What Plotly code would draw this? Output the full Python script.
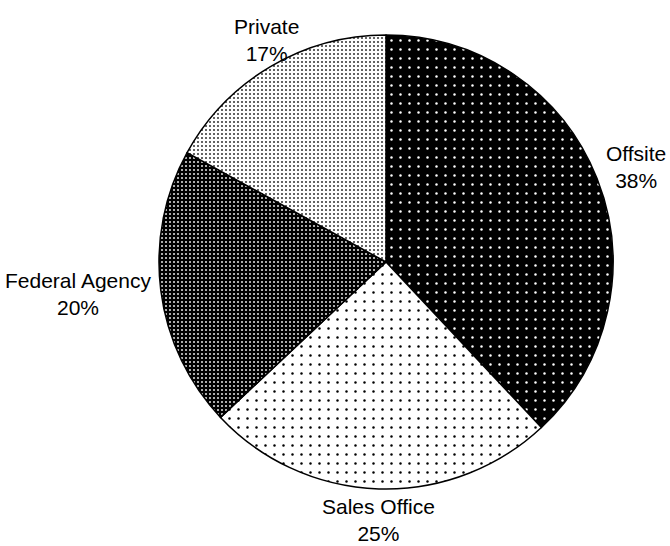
import math
import plotly.graph_objects as go

# Share of responses by location
labels = ["Offsite", "Sales Office", "Federal Agency", "Private"]
values = [38, 25, 20, 17]

# Dot-fill styling per slice (background, dot colour, tile size, dot coverage)
bg_colors = ["#000000", "#ffffff", "#000000", "#ffffff"]
fg_colors = ["#ffffff", "#000000", "#d8d8d8", "#303030"]
tile_sizes = [9, 9, 4, 4]
solidities = [0.06, 0.06, 0.22, 0.2]

LABEL_RADIUS = 1.035   # label anchor distance, relative to the pie radius
HALF_BLOCK = 23        # half height (px) of a two-line label block

fig = go.Figure(
    go.Pie(
        labels=labels,
        values=values,
        sort=False,
        direction="clockwise",
        rotation=0,
        textinfo="none",
        showlegend=False,
        automargin=False,
        marker=dict(
            colors=bg_colors,
            line=dict(color="#000000", width=1.5),
            pattern=dict(
                shape=["."] * 4,
                bgcolor=bg_colors,
                fgcolor=fg_colors,
                size=tile_sizes,
                solidity=solidities,
                fillmode="replace",
            ),
        ),
        hoverinfo="skip",
    )
)

# Outside labels placed along each slice's mid-angle (clockwise from 12 o'clock)
total = sum(values)
running = 0
for name, v in zip(labels, values):
    mid = (running + v / 2) / total
    running += v
    theta = 2 * math.pi * mid
    sx, cy = math.sin(theta), math.cos(theta)
    if sx > 0.6:
        xanchor = "left"
    elif sx < -0.6:
        xanchor = "right"
    else:
        xanchor = "center"
    fig.add_annotation(
        x=0.5 + 0.5 * LABEL_RADIUS * sx,
        y=0.5 + 0.5 * LABEL_RADIUS * cy,
        xref="paper",
        yref="paper",
        xanchor=xanchor,
        yanchor="middle",
        yshift=cy * HALF_BLOCK,
        text=f"{name}<br>{round(100 * v / total)}%",
        showarrow=False,
        align="center",
        font=dict(family="Liberation Sans, Arial, sans-serif", size=21, color="#000000"),
    )

fig.update_layout(
    width=670,
    height=546,
    margin=dict(l=159, r=57, t=35, b=57),
    paper_bgcolor="#ffffff",
    plot_bgcolor="#ffffff",
)

fig.write_html("out.html")
